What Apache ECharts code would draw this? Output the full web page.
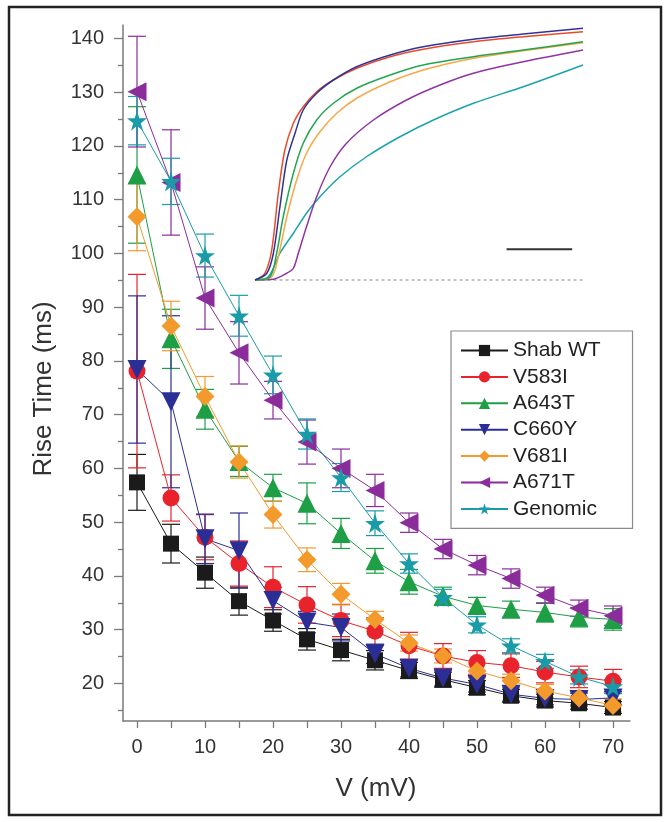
<!DOCTYPE html>
<html>
<head>
<meta charset="utf-8">
<script src="https://cdn.jsdelivr.net/npm/echarts@6/dist/echarts.min.js"></script>
<style>
html,body{margin:0;padding:0;background:#fff;}
#chart{width:669px;height:822px;}
</style>
</head>
<body>
<div id="chart"></div>
<script>
// ---- main data ----
var volts = [0, 5, 10, 15, 20, 25, 30, 35, 40, 45, 50, 55, 60, 65, 70];
var xTickLabels = [0, 10, 20, 30, 40, 50, 60, 70];
var xTicks = [0, 5, 10, 15, 20, 25, 30, 35, 40, 45, 50, 55, 60, 65, 70];
var yTickLabels = [20, 30, 40, 50, 60, 70, 80, 90, 100, 110, 120, 130, 140];
var yMinorTicks = [15, 25, 35, 45, 55, 65, 75, 85, 95, 105, 115, 125, 135];

var wt      = [57.4, 46.0, 40.6, 35.3, 31.7, 28.2, 26.2, 24.3, 22.4, 20.7, 19.2, 17.7, 16.8, 16.3, 15.5];
var wtErr   = [5.2, 3.6, 2.9, 2.6, 2.0, 2.0, 2.0, 1.8, 1.5, 1.4, 1.3, 1.2, 1.2, 1.1, 1.1];
var v583    = [78.1, 54.5, 47.2, 42.3, 37.9, 34.6, 31.7, 29.7, 27.0, 25.1, 23.9, 23.3, 22.1, 21.2, 20.4];
var v583Err = [18.0, 4.3, 4.2, 4.2, 3.8, 3.4, 3.0, 2.5, 2.5, 2.3, 2.2, 2.2, 2.0, 2.0, 2.2];
var a643    = [114.6, 84.1, 71.0, 61.3, 56.4, 53.5, 47.9, 42.8, 38.9, 36.2, 34.5, 33.8, 33.2, 32.3, 31.9];
var a643Err = [12.7, 5.5, 3.7, 2.8, 2.5, 3.8, 2.8, 2.3, 2.3, 1.7, 1.5, 1.5, 1.8, 1.8, 2.0];
var c660    = [78.4, 72.4, 46.9, 44.7, 35.4, 31.4, 30.4, 25.5, 22.8, 21.0, 19.8, 18.0, 17.2, 17.0, 17.3];
var c660Err = [13.7, 16.0, 4.6, 7.0, 2.5, 2.0, 2.5, 1.8, 1.6, 1.5, 1.4, 1.3, 1.2, 1.2, 1.2];
var v681    = [106.8, 86.5, 73.4, 61.2, 51.4, 43.0, 36.6, 31.9, 27.5, 25.1, 22.3, 20.5, 18.6, 17.3, 15.9];
var v681Err = [6.3, 4.6, 3.7, 3.0, 2.5, 2.2, 2.0, 1.5, 1.5, 1.3, 1.3, 1.2, 1.2, 1.2, 1.2];
var a671    = [130.1, 113.2, 91.7, 81.5, 72.7, 64.9, 60.0, 55.9, 49.9, 45.0, 42.0, 39.5, 36.4, 34.0, 32.6];
var a671Err = [10.3, 9.8, 5.8, 5.8, 3.5, 4.1, 3.6, 3.0, 1.8, 1.8, 1.8, 1.8, 1.5, 1.5, 1.8];
var genomic = [124.7, 113.4, 99.6, 88.4, 77.4, 66.4, 58.3, 49.8, 42.3, 36.0, 30.9, 27.0, 24.1, 21.2, 19.4];
var genErr  = [4.5, 4.3, 4.0, 3.8, 3.5, 2.8, 2.6, 2.3, 1.8, 1.5, 1.5, 1.3, 1.3, 1.3, 1.3];

// ---- inset traces (time in arbitrary units 0..100, normalized amplitude) ----
var trBlueT   = [0, 3.6, 5.6, 7.6, 9.7, 12.2, 14.7, 18.8, 23.9, 31, 41.2, 51.3, 66.6, 81.8, 100];
var trBlueA   = [0, 0.027, 0.107, 0.293, 0.48, 0.587, 0.68, 0.747, 0.8, 0.853, 0.9, 0.933, 0.963, 0.984, 1.007];
var trRedT    = [0, 3.0, 5.1, 7.1, 9.1, 11.7, 14.7, 18.8, 23.9, 31, 41.2, 51.3, 66.6, 81.8, 100];
var trRedA    = [0, 0.027, 0.12, 0.347, 0.52, 0.627, 0.693, 0.753, 0.8, 0.847, 0.893, 0.923, 0.953, 0.973, 0.993];
var trGreenT  = [0, 4.6, 6.6, 8.6, 11.7, 14.7, 18.8, 23.9, 31, 41.2, 51.3, 66.6, 81.8, 100];
var trGreenA  = [0, 0.013, 0.107, 0.253, 0.427, 0.547, 0.64, 0.707, 0.767, 0.82, 0.86, 0.893, 0.92, 0.953];
var trOrangeT = [0, 5.1, 7.1, 9.7, 12.7, 15.7, 19.8, 24.9, 31, 41.2, 51.3, 66.6, 81.8, 100];
var trOrangeA = [0, 0.013, 0.093, 0.253, 0.4, 0.507, 0.593, 0.667, 0.727, 0.793, 0.84, 0.887, 0.917, 0.949];
var trPurpleT = [0, 5.6, 9.7, 11.7, 13.2, 15.7, 18.8, 22.9, 27.9, 36.1, 46.2, 56.4, 66.6, 81.8, 100];
var trPurpleA = [0, 0.003, 0.027, 0.047, 0.107, 0.213, 0.333, 0.453, 0.547, 0.64, 0.72, 0.78, 0.827, 0.873, 0.92];
var trTealT   = [0, 4.1, 7.6, 11.7, 15.7, 19.8, 25.9, 34, 44.2, 54.4, 66.6, 81.8, 100];
var trTealA   = [0, 0.013, 0.107, 0.187, 0.267, 0.333, 0.413, 0.493, 0.573, 0.64, 0.707, 0.773, 0.86];
var baselineT = [2, 100];
var baselineA = [0, 0];
var scaleBarT = [76.7, 96.7];
var scaleBarA = [0.123, 0.123];

var names = ['Shab WT', 'V583I', 'A643T', 'C660Y', 'V681I', 'A671T', 'Genomic'];
var colors = ['#1b1b1b', '#e8232b', '#1e9e45', '#2b2f95', '#f39a2c', '#8a2d9b', '#1a9ca8'];

var starPath = 'path://M50,0 L61,35 L98,35 L68,57 L79,91 L50,70 L21,91 L32,57 L2,35 L39,35 Z';
var diamondPath = 'path://M0,10 L10,0 L20,10 L10,20 Z';
var seriesCfg = [
  {vals: wt, errs: wtErr, symbol: 'rect', size: 16, rot: 0},
  {vals: v583, errs: v583Err, symbol: 'circle', size: 17, rot: 0},
  {vals: a643, errs: a643Err, symbol: 'triangle', size: 19, rot: 0},
  {vals: c660, errs: c660Err, symbol: 'triangle', size: 19, rot: 180},
  {vals: v681, errs: v681Err, symbol: diamondPath, size: 19, rot: 0},
  {vals: a671, errs: a671Err, symbol: 'triangle', size: 19, rot: 90},
  {vals: genomic, errs: genErr, symbol: starPath, size: 20, rot: 0}
];

function zip(a, b) { return a.map(function (v, i) { return [v, b[i]]; }); }

var series = [];
// error bars
seriesCfg.forEach(function (c, k) {
  series.push({
    name: names[k] + ' err',
    type: 'custom',
    xAxisIndex: 0, yAxisIndex: 0,
    z: 1,
    silent: true,
    encode: {x: 0, y: 1},
    data: volts.map(function (v, i) { return [v, c.vals[i], c.errs[i]]; }),
    renderItem: function (params, api) {
      var x = api.value(0), y = api.value(1), e = api.value(2);
      var top = api.coord([x, y + e]);
      var bot = api.coord([x, y - e]);
      var hw = 9;
      var st = {stroke: colors[k], lineWidth: 1.2};
      return {
        type: 'group',
        children: [
          {type: 'line', shape: {x1: top[0], y1: top[1], x2: bot[0], y2: bot[1]}, style: st},
          {type: 'line', shape: {x1: top[0] - hw, y1: top[1], x2: top[0] + hw, y2: top[1]}, style: st},
          {type: 'line', shape: {x1: bot[0] - hw, y1: bot[1], x2: bot[0] + hw, y2: bot[1]}, style: st}
        ]
      };
    }
  });
});
// lines with markers
seriesCfg.forEach(function (c, k) {
  series.push({
    name: names[k],
    type: 'line',
    xAxisIndex: 0, yAxisIndex: 0,
    z: 3,
    data: zip(volts, c.vals),
    symbol: c.symbol,
    symbolSize: c.size,
    symbolRotate: c.rot,
    showAllSymbol: true,
    color: colors[k],
    lineStyle: {color: colors[k], width: 1},
    itemStyle: {color: colors[k], borderWidth: 0},
    animation: false
  });
});
// inset traces
var traces = [
  {t: trTealT, a: trTealA, c: '#1aa3ad'},
  {t: trPurpleT, a: trPurpleA, c: '#8e35a3'},
  {t: trOrangeT, a: trOrangeA, c: '#f8a646'},
  {t: trGreenT, a: trGreenA, c: '#22a550'},
  {t: trRedT, a: trRedA, c: '#ea4a2c'},
  {t: trBlueT, a: trBlueA, c: '#2e3595'}
];
traces.forEach(function (tr, k) {
  series.push({
    name: 'trace' + k,
    type: 'line',
    xAxisIndex: 1, yAxisIndex: 2,
    data: zip(tr.t, tr.a),
    smooth: 0.3,
    symbol: 'none',
    clip: false,
    lineStyle: {color: tr.c, width: 1.5},
    z: 2,
    animation: false
  });
});
series.push({
  name: 'baseline', type: 'line', xAxisIndex: 1, yAxisIndex: 2,
  data: zip(baselineT, baselineA), symbol: 'none', clip: false,
  lineStyle: {color: '#9a9a9a', width: 1.2, type: [3, 3]}, z: 1, animation: false
});
series.push({
  name: 'scalebar', type: 'line', xAxisIndex: 1, yAxisIndex: 2,
  data: zip(scaleBarT, scaleBarA), symbol: 'none', clip: false,
  lineStyle: {color: '#333', width: 2}, z: 1, animation: false
});

var axisColor = '#7a7a7a';
var font = 'Liberation Sans, Arial, sans-serif';

var option = {
  animation: false,
  backgroundColor: '#fff',
  grid: [
    {left: 123, width: 507, top: 25, height: 696},
    {left: 255, width: 328, top: 30, height: 250}
  ],
  xAxis: [
    {
      type: 'value', gridIndex: 0, min: -2.06, max: 72.5,
      axisLine: {show: true, onZero: false, lineStyle: {color: axisColor, width: 1.5}},
      axisTick: {show: true, customValues: xTicks, length: 7, inside: false, lineStyle: {color: axisColor, width: 1.3}},
      axisLabel: {customValues: xTickLabels, fontSize: 20, color: '#333', fontFamily: font, margin: 16},
      splitLine: {show: false}
    },
    {
      type: 'value', gridIndex: 1, min: 0, max: 100, show: false
    }
  ],
  yAxis: [
    {
      type: 'value', gridIndex: 0, min: 13, max: 142.5,
      axisLine: {show: true, onZero: false, lineStyle: {color: axisColor, width: 1.5}},
      axisTick: {show: true, customValues: yTickLabels, length: 9, lineStyle: {color: axisColor, width: 1.3}},
      axisLabel: {customValues: yTickLabels, fontSize: 20, color: '#333', fontFamily: font, margin: 19},
      splitLine: {show: false}
    },
    {
      type: 'value', gridIndex: 0, min: 13, max: 142.5, position: 'left',
      axisLine: {show: false, onZero: false},
      axisTick: {show: true, customValues: yMinorTicks, length: 5, lineStyle: {color: axisColor, width: 1.3}},
      axisLabel: {show: false},
      splitLine: {show: false}
    },
    {
      type: 'value', gridIndex: 1, min: 0, max: 1, show: false
    }
  ],
  legend: {
    data: names,
    orient: 'vertical',
    left: 451, top: 331,
    padding: [9, 32, 9, 9],
    itemWidth: 47,
    itemHeight: 14,
    itemGap: 5.4,
    borderColor: '#8a8a8a',
    borderWidth: 1.2,
    textStyle: {fontSize: 21, lineHeight: 20, color: '#222', fontFamily: font}
  },
  graphic: [
    {type: 'rect', shape: {x: 9, y: 7, width: 652, height: 808}, style: {fill: 'none', stroke: '#222', lineWidth: 2.5}, z: 100},
    {type: 'text', x: 44, y: 389, rotation: Math.PI / 2,
      style: {text: 'Rise Time (ms)', fontSize: 26, fill: '#333', fontFamily: font, textAlign: 'center', textVerticalAlign: 'middle'}},
    {type: 'text', x: 376, y: 789,
      style: {text: 'V (mV)', fontSize: 26, fill: '#333', fontFamily: font, textAlign: 'center', textVerticalAlign: 'middle'}}
  ],
  series: series
};

var chart = echarts.init(document.getElementById('chart'), null, {renderer: 'canvas'});
chart.setOption(option);
</script>
</body>
</html>
